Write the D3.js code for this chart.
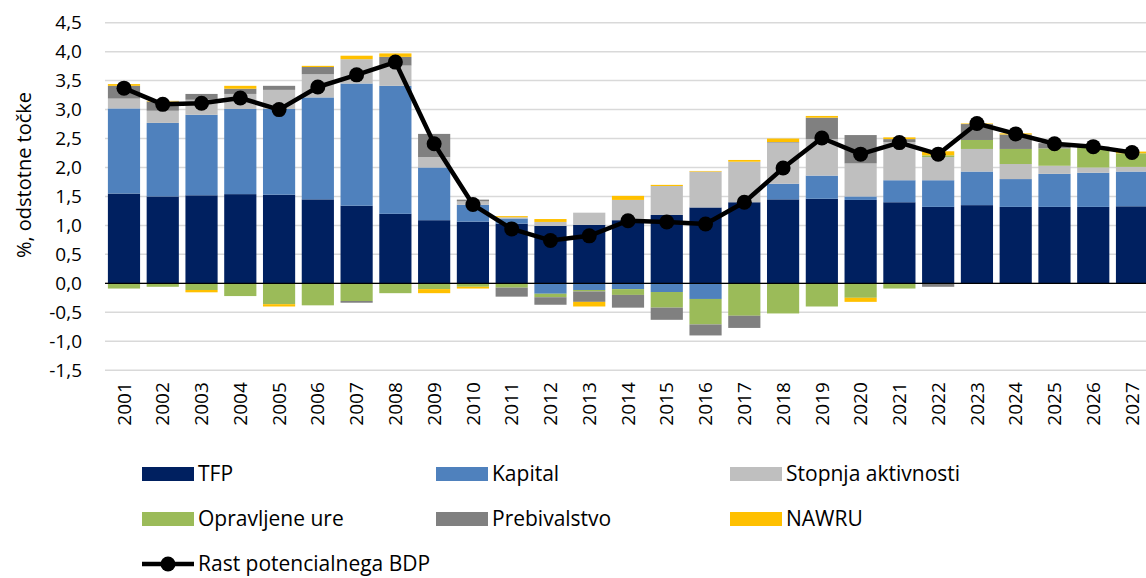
<!DOCTYPE html>
<html><head><meta charset="utf-8">
<script src="https://cdn.jsdelivr.net/npm/d3@7"></script>
<style>body{margin:0;background:#fff;} svg{display:block;font-family:"Open Sans",Lato,sans-serif;}</style>
</head><body><svg id="c" width="1146" height="578"></svg>
<script>
const years = ["2001","2002","2003","2004","2005","2006","2007","2008","2009","2010","2011","2012","2013","2014","2015","2016","2017","2018","2019","2020","2021","2022","2023","2024","2025","2026","2027"];
const seriesNames = ["TFP","Kapital","Stopnja aktivnosti","Opravljene ure","Prebivalstvo","NAWRU"];
const tfp        = [1.55,1.50,1.52,1.54,1.53,1.45,1.34,1.20,1.09,1.065,1.03,0.99,1.01,1.09,1.18,1.31,1.40,1.45,1.46,1.44,1.40,1.32,1.35,1.32,1.32,1.32,1.33];
const kapital    = [1.47,1.27,1.39,1.47,1.48,1.76,2.11,2.21,0.91,0.29,0.09,-0.18,-0.115,-0.10,-0.15,-0.27,0,0.27,0.40,0.06,0.38,0.46,0.58,0.48,0.57,0.59,0.60];
const stopnja    = [0.17,0.21,0.26,0.26,0.33,0.40,0.42,0.35,0.18,0.06,0.02,0.07,0.21,0.35,0.50,0.62,0.70,0.71,0.63,0.57,0.66,0.40,0.39,0.26,0.14,0.09,0.08];
const ure        = [-0.09,-0.06,-0.115,-0.22,-0.36,-0.38,-0.305,-0.17,-0.10,-0.06,-0.075,-0.06,-0.025,-0.10,-0.27,-0.44,-0.56,-0.52,-0.40,-0.25,-0.09,0.03,0.155,0.26,0.30,0.34,0.235];
const prebival   = [0.22,0.16,0.10,0.09,0.07,0.125,-0.03,0.15,0.40,0.03,-0.155,-0.13,-0.18,-0.22,-0.21,-0.19,-0.21,0.01,0.37,0.49,0.05,-0.06,0.275,0.25,0.09,0.02,0];
const nawru      = [0.03,0.01,-0.04,0.05,-0.04,0.02,0.06,0.06,-0.07,-0.03,0.02,0.05,-0.08,0.07,0.02,0.01,0.03,0.06,0.03,-0.07,0.03,0.07,0.01,0.02,0,0,0.03];
const rast       = [3.37,3.09,3.11,3.20,3.00,3.39,3.60,3.82,2.41,1.36,0.94,0.74,0.82,1.08,1.06,1.025,1.40,1.99,2.51,2.23,2.43,2.23,2.76,2.58,2.41,2.36,2.26];
const yTicks = [-1.5,-1,-0.5,0,0.5,1,1.5,2,2.5,3,3.5,4,4.5];
const colors = ["#002060","#4f81bd","#bfbfbf","#9bbb59","#808080","#ffc000"];
const lineName = "Rast potencialnega BDP";
const FONT = "Open Sans";

const svg = d3.select("#c");
const x = d3.scaleBand().domain(years).range([104.6,1151.4]).paddingInner(0.17).paddingOuter(0.085);
const y = d3.scaleLinear().domain([-1.5,4.5]).range([370.2,22.7]);
const plotL = 105, plotR = 1146;

const fmt = v => d3.format(".1f")(v).replace(".",",").replace("−","-");

// gridlines
svg.append("g").selectAll("line").data(yTicks).join("line")
  .attr("x1",plotL).attr("x2",plotR).attr("y1",d=>y(d)).attr("y2",d=>y(d))
  .attr("stroke","#d9d9d9").attr("stroke-width",1.5);

// y axis labels
const yAxis = d3.axisLeft(y).tickValues(yTicks).tickFormat(fmt).tickSize(0).tickPadding(0);
const ya = svg.append("g").attr("transform","translate(82,0)").call(yAxis);
ya.select(".domain").remove();
ya.selectAll("text").attr("font-size",19).attr("fill","#000").style("font-family",FONT);

// stack
const rows = years.map((yr,i)=>({year:yr, TFP:tfp[i], "Kapital":kapital[i], "Stopnja aktivnosti":stopnja[i], "Opravljene ure":ure[i], "Prebivalstvo":prebival[i], "NAWRU":nawru[i]}));
const stack = d3.stack().keys(seriesNames).offset(d3.stackOffsetDiverging);
const layers = stack(rows);

svg.append("g").selectAll("g").data(layers).join("g")
  .attr("fill",(d,i)=>colors[i])
  .selectAll("rect").data(d=>d).join("rect")
  .attr("x",d=>x(d.data.year))
  .attr("width",x.bandwidth())
  .attr("y",d=>y(Math.max(d[0],d[1])))
  .attr("height",d=>Math.abs(y(d[0])-y(d[1])));

// zero line
svg.append("line").attr("x1",plotL).attr("x2",plotR).attr("y1",y(0)).attr("y2",y(0))
  .attr("stroke","#000").attr("stroke-width",1.2);

// x axis labels
const xAxis = d3.axisBottom(x).tickSize(0).tickPadding(0);
const xa = svg.append("g").attr("transform",`translate(0,${y(-1.5)+11})`).call(xAxis);
xa.select(".domain").remove();
xa.selectAll("text").attr("font-size",19).attr("fill","#000").style("font-family",FONT)
  .attr("transform","rotate(-90)").attr("text-anchor","end").attr("x",-1).attr("y",0).attr("dy","0.35em");

// line
const cx = d => x(d)+x.bandwidth()/2;
svg.append("path").datum(rast)
  .attr("d",d3.line().x((d,i)=>cx(years[i])).y(d=>y(d)))
  .attr("fill","none").attr("stroke","#000").attr("stroke-width",4.5).attr("stroke-linejoin","round");
svg.append("g").selectAll("circle").data(rast).join("circle")
  .attr("cx",(d,i)=>cx(years[i])).attr("cy",d=>y(d)).attr("r",7.5).attr("fill","#000");

// y title
svg.append("text").attr("transform","translate(31,175) rotate(-90)")
  .attr("text-anchor","middle").attr("font-size",20).attr("fill","#000").style("font-family",FONT)
  .text("%, odstotne točke");

// legend
const legX = [142,436,730], legY = [474,519];
const leg = svg.append("g");
seriesNames.forEach((n,i)=>{
  const lx = legX[i%3], ly = legY[Math.floor(i/3)];
  leg.append("rect").attr("x",lx).attr("y",ly-7).attr("width",52).attr("height",14).attr("fill",colors[i]);
  leg.append("text").attr("x",lx+56).attr("y",ly).attr("dy","0.35em").attr("font-size",21).attr("fill","#000").style("font-family",FONT).text(n);
});
leg.append("line").attr("x1",142).attr("x2",194).attr("y1",564).attr("y2",564).attr("stroke","#000").attr("stroke-width",4.5);
leg.append("circle").attr("cx",168).attr("cy",564).attr("r",7.5).attr("fill","#000");
leg.append("text").attr("x",198).attr("y",564).attr("dy","0.35em").attr("font-size",21).attr("fill","#000").style("font-family",FONT).text(lineName);
</script></body></html>
